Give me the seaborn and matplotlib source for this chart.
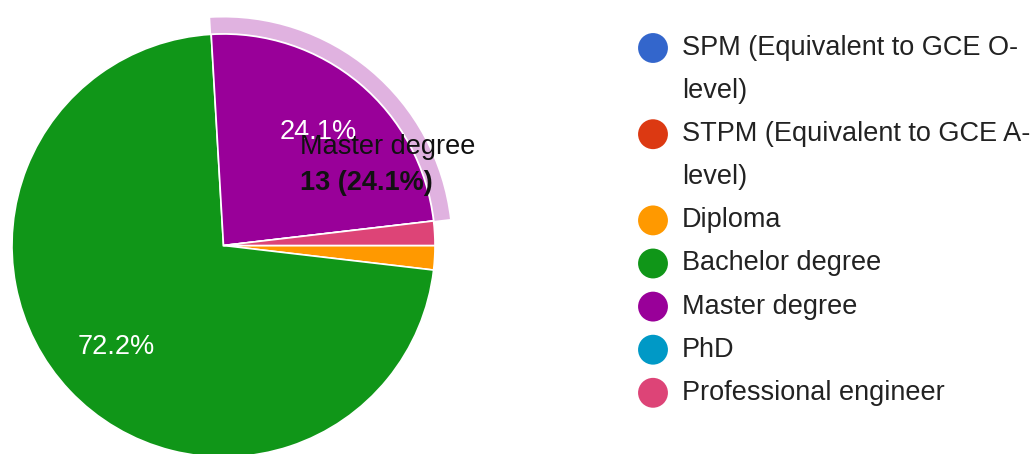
import matplotlib
matplotlib.use("Agg")
import matplotlib.pyplot as plt
from matplotlib.patches import Wedge
import seaborn as sns

# ---- data ----
categories = ["SPM (Equivalent to GCE O-\nlevel)",
              "STPM (Equivalent to GCE A-\nlevel)",
              "Diploma", "Bachelor degree", "Master degree", "PhD",
              "Professional engineer"]
counts = [0, 0, 1, 39, 13, 0, 1]
colors = ["#3366cc", "#dc3912", "#ff9900", "#109618", "#990099", "#0099c6", "#dd4477"]
highlight = "Master degree"

sns.set_theme(style="white")
plt.rcParams["font.family"] = ["Liberation Sans", "DejaVu Sans"]
palette = sns.color_palette(colors)

W, H = 1036, 454
fig = plt.figure(figsize=(W / 100, H / 100), dpi=100)
ax = fig.add_axes([0, 0, 1, 1])

cx, cy, R = 223.5, H - 245.5, 211.5
total = sum(counts)


def pct_fmt(p):
    return f"{p:.1f}%" if p > 5 else ""


wedges, texts, autotexts = ax.pie(
    counts, colors=palette, startangle=0, counterclock=False,
    center=(cx, cy), radius=R, autopct=pct_fmt, pctdistance=0.70,
    wedgeprops=dict(edgecolor="white", linewidth=1.2),
    textprops=dict(color="white", fontsize=19.5))

ax.set_xlim(0, W)
ax.set_ylim(0, H)
ax.set_aspect("equal")
ax.axis("off")

# highlight ring for hovered slice
hi = [c.replace("\n", " ") for c in categories].index(highlight)
hw = wedges[hi]
ring = Wedge((cx, cy), R + 16.5, hw.theta1, hw.theta2, width=15.5,
             facecolor="#e0b2e0", edgecolor="none")
ax.add_patch(ring)

# tooltip-like text
val = counts[hi]
ax.text(300, H - 147, highlight, fontsize=19.5, color="#111111",
        ha="left", va="center")
ax.text(300, H - 183, f"{val} ({val / total * 100:.1f}%)", fontsize=19.5,
        fontweight="bold", color="#111111", ha="left", va="center")

# legend
line_h = 43.1
y = H - 48
for lab, col in zip(categories, palette):
    ax.scatter([653], [y], s=29 ** 2 * 0.55, color=col, edgecolors="none",
               zorder=5)
    lines = lab.split("\n")
    for i, ln in enumerate(lines):
        ax.text(682, y - i * line_h, ln, fontsize=19.5, color="#222222",
                ha="left", va="center")
    y -= line_h * len(lines)

fig.savefig("out.png", dpi=100, facecolor="white")
